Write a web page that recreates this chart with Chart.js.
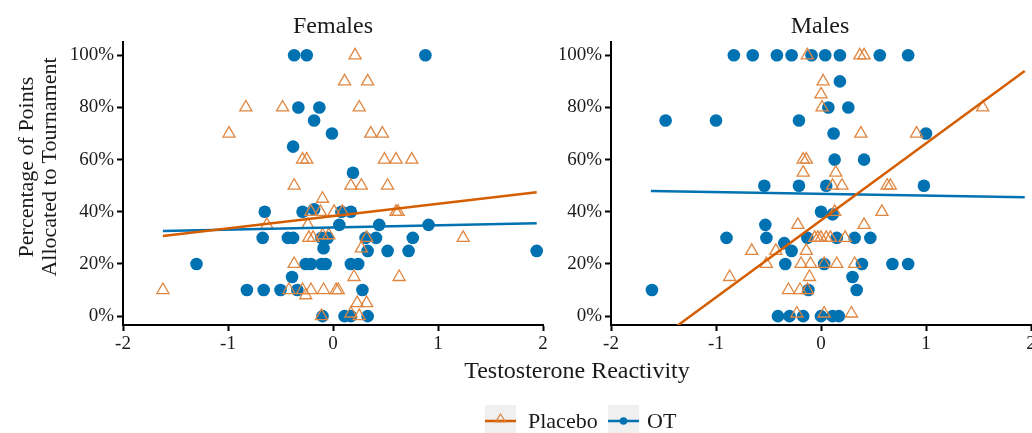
<!DOCTYPE html>
<html>
<head>
<meta charset="utf-8">
<script src="https://cdn.jsdelivr.net/npm/chart.js@4.4.1/dist/chart.umd.min.js"></script>
<style>
  body { margin: 0; background: #fff; font-family: 'Liberation Serif', 'Times New Roman', serif; color: #1a1a1a; }
  #wrap { position: relative; width: 1032px; height: 433px; overflow: hidden; }
  canvas { position: absolute; top: 0; }
  .lbl { position: absolute; white-space: nowrap; }
</style>
</head>
<body>
<div id="wrap">
  <canvas id="fem" width="560" height="360" style="left:0;width:560px;height:360px"></canvas>
  <!-- wider than the window on purpose so the last tick label doesn't squeeze the plot -->
  <canvas id="male" width="490" height="360" style="left:560px;width:490px;height:360px"></canvas>

  <div class="lbl" style="left:333px;top:13px;font-size:24px;line-height:24px;transform:translateX(-50%)">Females</div>
  <div class="lbl" style="left:820px;top:13px;font-size:24px;line-height:24px;transform:translateX(-50%)">Males</div>
  <div class="lbl" style="left:-113px;top:144px;width:300px;height:46px;font-size:22px;line-height:23px;text-align:center;transform:rotate(-90deg)">Percentage of Points<br>Allocated to Tournament</div>
  <div class="lbl" style="left:577px;top:358px;font-size:24px;line-height:24px;transform:translateX(-50%)">Testosterone Reactivity</div>

  <svg class="lbl" style="left:485px;top:405px" width="31" height="31">
    <rect width="31" height="31" fill="#f0f0f0"/>
    <line x1="0" y1="16" x2="31" y2="16" stroke="#D55E00" stroke-width="2.5"/>
    <polygon points="15.5,9 20.5,17 10.5,17" fill="none" stroke="#E08640" stroke-width="1.2"/>
  </svg>
  <div class="lbl" style="left:528px;top:410px;font-size:22px;line-height:22px">Placebo</div>
  <svg class="lbl" style="left:608px;top:405px" width="31" height="31">
    <rect width="31" height="31" fill="#f0f0f0"/>
    <line x1="0" y1="16" x2="31" y2="16" stroke="#0072B2" stroke-width="2.5"/>
    <circle cx="15.5" cy="16" r="3.8" fill="#0072B2"/>
  </svg>
  <div class="lbl" style="left:647px;top:410px;font-size:22px;line-height:22px">OT</div>
</div>

<script>
const xTicks = [-2, -1, 0, 1, 2];
const yTicks = [0, 20, 40, 60, 80, 100];

// Females, placebo (triangles)
const femPlaceboX = [-0.83, -0.48, -0.99, -0.29, -0.25, -0.37, 0.21, 0.11, 0.33, 0.25,
  0.36, 0.47, 0.49, 0.60, 0.75, 0.17, 0.27, 0.52, -0.10, -0.63,
  -0.24, -0.23, -0.19, -0.10, -0.04, 0.32, 1.24, 0.27, -0.37, 0.20,
  0.63, -1.62, -0.42, -0.29, -0.21, -0.09, 0.03, 0.05, -0.26, 0.23,
  0.32, -0.11, 0.17, 0.25, -0.21, -0.12, 0.01, 0.09, 0.60, 0.62];
const femPlaceboY = [80, 80, 70, 60, 60, 50, 100, 90, 90, 80,
  70, 70, 60, 60, 60, 50, 50, 50, 45, 35,
  35, 30, 30, 31, 31, 30, 30, 26, 20, 15,
  15, 10, 10, 10, 10, 10, 10, 10, 8, 5,
  5, 0, 1, 0, 40, 40, 40, 40, 40, 40];

// Females, OT (dots)
const femOtX = [-0.37, -0.25, 0.88, -0.33, -0.13, -0.18, -0.38, -0.01, 0.19, -0.65,
  -0.29, -0.18, 0.08, 0.17, 0.06, 0.44, 0.91, -0.67, -0.43, -0.38,
  -0.11, -0.05, 0.31, 0.41, 0.76, -0.09, 0.33, 0.52, 0.72, 1.94,
  -1.30, -0.26, -0.21, -0.11, -0.07, 0.17, 0.24, -0.39, -0.82, -0.66,
  -0.50, -0.34, 0.28, -0.10, 0.11, 0.17, 0.33];
const femOtY = [100, 100, 100, 80, 80, 75, 65, 70, 55, 40,
  40, 41, 40, 40, 35, 35, 35, 30, 30, 30,
  30, 30, 30, 30, 30, 26, 25, 25, 25, 25,
  20, 20, 20, 20, 20, 20, 20, 15, 10, 10,
  10, 10, 10, 0, 0, 0, 0];

// Males, placebo (triangles)
const malePlaceboX = [-0.13, 0.37, 0.41, 0.02, 0.00, 0.01, -0.17, -0.14, -0.17, 0.14,
  0.38, 0.91, 1.54, 0.11, 0.20, 0.63, 0.66, -0.22, 0.41, 0.13,
  0.58, -0.06, -0.03, 0.00, 0.05, 0.09, 0.23, -0.66, -0.43, -0.14,
  -0.52, -0.19, -0.10, 0.03, 0.15, 0.32, -0.87, -0.11, -0.31, -0.20,
  -0.13, -0.23, 0.03, 0.29];
const malePlaceboY = [100, 100, 100, 90, 85, 80, 60, 60, 55, 55,
  70, 70, 80, 50, 50, 50, 50, 35, 35, 40,
  40, 30, 30, 30, 30, 30, 30, 25, 25, 25,
  20, 20, 20, 20, 20, 20, 15, 15, 10, 10,
  10, 1, 1, 1];

// Males, OT (dots)
const maleOtX = [-0.83, -0.65, -0.42, -0.28, -0.09, 0.04, 0.18, 0.56, 0.83, 0.18,
  0.07, 0.26, -1.48, -1.00, -0.21, 0.12, 1.00, 0.13, 0.41, -0.54,
  -0.21, 0.05, 0.98, 0.00, 0.11, -0.53, -0.90, -0.52, -0.13, 0.15,
  0.32, 0.47, -0.35, -0.28, -0.34, 0.03, 0.39, 0.68, 0.83, 0.30,
  -1.61, -0.12, 0.34, -0.41, -0.30, -0.17, 0.00, 0.11, 0.17];
const maleOtY = [100, 100, 100, 100, 100, 100, 100, 100, 100, 90,
  80, 80, 75, 75, 75, 70, 70, 60, 60, 50,
  50, 50, 50, 40, 39, 35, 30, 30, 30, 30,
  30, 30, 28, 25, 20, 20, 20, 20, 20, 15,
  10, 10, 10, 0, 0, 0, 0, 0, 0];

// fitted lines, endpoints
const fitX = [-1.62, 1.94];
const femPlaceboFit = [30.7, 47.5];
const femOtFit = [32.6, 35.6];
const malePlaceboFit = [-11.1, 94.0];
const maleOtFit = [48.0, 45.6];

const FONT = "'Liberation Serif', 'Times New Roman', serif";
const pts = (xs, ys) => xs.map((x, i) => ({ x: x, y: ys[i] }));

function makePanel(id, placebo, ot, placeboFit, otFit, yWidth, padRight) {
    return new Chart(document.getElementById(id), {
        type: 'scatter',
        data: {
            datasets: [
                {
                    data: pts(fitX, placeboFit),
                    showLine: true,
                    borderColor: '#D55E00',
                    borderWidth: 2.5,
                    pointRadius: 0,
                    clip: 0,
                    order: 0
                },
                {
                    data: pts(fitX, otFit),
                    showLine: true,
                    borderColor: '#0072B2',
                    borderWidth: 2.5,
                    pointRadius: 0,
                    clip: 0,
                    order: 0
                },
                {
                    data: placebo,
                    pointStyle: 'triangle',
                    pointRadius: 7,
                    backgroundColor: 'rgba(0,0,0,0)',
                    borderColor: '#E08640',
                    borderWidth: 1.3,
                    order: 1
                },
                {
                    data: ot,
                    pointStyle: 'circle',
                    pointRadius: 6.3,
                    backgroundColor: '#0072B2',
                    borderWidth: 0,
                    order: 2
                }
            ]
        },
        options: {
            responsive: false,
            animation: false,
            events: [],
            layout: { padding: { top: 42, left: 0, right: padRight, bottom: 0 } },
            plugins: { legend: { display: false }, tooltip: { enabled: false } },
            scales: {
                x: {
                    type: 'linear',
                    min: -2,
                    max: 2,
                    afterBuildTicks: (axis) => { axis.ticks = xTicks.map(v => ({ value: v })); },
                    afterFit: (axis) => { axis.height = 35; axis.paddingLeft = 0; axis.paddingRight = 0; },
                    ticks: {
                        font: { family: FONT, size: 19 },
                        color: '#1a1a1a',
                        padding: 2,
                        maxRotation: 0,
                        callback: (v) => String(v)
                    },
                    grid: { drawOnChartArea: false, drawTicks: true, tickLength: 6, tickWidth: 2, tickColor: '#000' },
                    border: { display: true, color: '#000', width: 2 }
                },
                y: {
                    min: -3.4,
                    max: 105.1,
                    afterBuildTicks: (axis) => { axis.ticks = yTicks.map(v => ({ value: v })); },
                    afterFit: (axis) => { axis.width = yWidth; axis.paddingTop = 0; axis.paddingBottom = 0; },
                    ticks: {
                        font: { family: FONT, size: 19 },
                        color: '#1a1a1a',
                        padding: 3,
                        callback: (v) => v + '%'
                    },
                    grid: { drawOnChartArea: false, drawTicks: true, tickLength: 6, tickWidth: 2, tickColor: '#000' },
                    border: { display: true, color: '#000', width: 2 }
                }
            }
        }
    });
}

makePanel('fem', pts(femPlaceboX, femPlaceboY), pts(femOtX, femOtY), femPlaceboFit, femOtFit, 123, 17);
makePanel('male', pts(malePlaceboX, malePlaceboY), pts(maleOtX, maleOtY), malePlaceboFit, maleOtFit, 51, 19);
</script>
</body>
</html>
